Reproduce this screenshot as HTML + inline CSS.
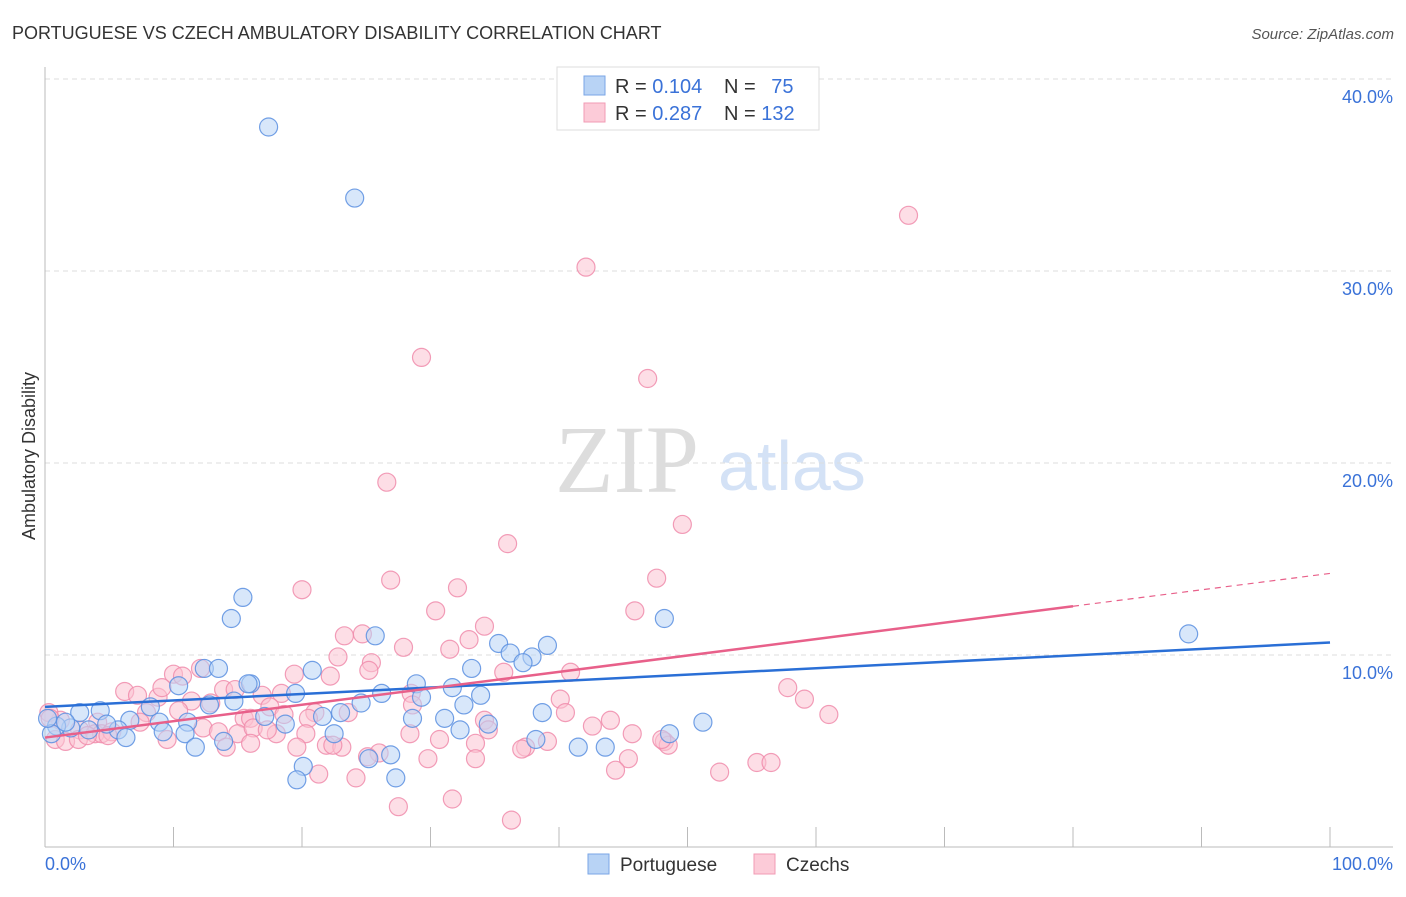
<!DOCTYPE html>
<html><head><meta charset="utf-8"><style>
body{margin:0;background:#fff;font-family:"Liberation Sans",sans-serif;}
svg text{font-family:"Liberation Sans",sans-serif;}
</style></head><body>
<svg id="chart" width="1406" height="892" viewBox="0 0 1406 892">
<text x="12" y="39" font-size="18" fill="#333">PORTUGUESE VS CZECH AMBULATORY DISABILITY CORRELATION CHART</text>
<text x="1394" y="39" font-size="15" fill="#555" font-style="italic" text-anchor="end">Source: ZipAtlas.com</text>
<text x="555" y="492" font-size="96" fill="#ddd" font-family="Liberation Serif, serif" style="font-family:'Liberation Serif',serif">ZIP</text>
<text x="718" y="490" font-size="70" fill="#d4e2f6">atlas</text>
<g id="grid"></g>
<g id="axes"></g>
<g id="pts"></g>
<g id="lines"></g>
<text transform="translate(35,456) rotate(-90)" font-size="18" fill="#333" text-anchor="middle">Ambulatory Disability</text>
<text x="45" y="870" font-size="18" fill="#3a72d8">0.0%</text>
<text x="1393" y="870" font-size="18" fill="#3a72d8" text-anchor="end">100.0%</text>
<g>
<rect x="557" y="67" width="262" height="63" fill="#fff" stroke="#ddd"/>
<rect x="584" y="76" width="21" height="19" fill="#b8d3f5" stroke="#7aa6e6"/>
<rect x="584" y="103" width="21" height="19" fill="#fccbd8" stroke="#f29bb4"/>
<text x="615" y="93" font-size="20" fill="#333">R = <tspan fill="#3a72d8">0.104</tspan></text>
<text x="724" y="93" font-size="20" fill="#333">N = <tspan fill="#3a72d8" dx="10">75</tspan></text>
<text x="615" y="120" font-size="20" fill="#333">R = <tspan fill="#3a72d8">0.287</tspan></text>
<text x="724" y="120" font-size="20" fill="#333">N = <tspan fill="#3a72d8">132</tspan></text>
</g>
<g>
<rect x="588" y="854" width="21" height="20" fill="#b8d3f5" stroke="#7aa6e6"/>
<text x="620" y="871" font-size="19" fill="#333">Portuguese</text>
</g>
<g>
<rect x="754" y="854" width="21" height="20" fill="#fccbd8" stroke="#f29bb4"/>
<text x="786" y="871" font-size="19" fill="#333">Czechs</text>
</g>
</svg>
<script>
const yTicks=[10,20,30,40];
const yTickLabels=["10.0%","20.0%","30.0%","40.0%"];
const blueX=[17.4,24.1,15.4,14.5,25.7,48.2,89.0,35.3,39.1,36.2,37.9,37.2,20.8,33.2,12.4,13.5,10.4,16.0,19.5,26.2,28.9,29.3,31.7,33.9,32.6,24.6,21.6,23.0,14.7,12.8,8.2,4.3,2.7,28.6,31.1,34.5,38.7,32.3,51.2,48.6,18.7,17.1,11.1,8.9,6.6,5.7,4.8,3.4,2.0,0.9,0.5,6.3,10.9,9.2,11.7,13.9,22.5,38.2,41.5,43.6,26.9,25.2,20.1,19.6,27.3,0.2,1.6,15.8];
const blueY=[37.5,33.8,13.0,11.9,11.0,11.9,11.1,10.6,10.5,10.1,9.9,9.6,9.2,9.3,9.3,9.3,8.4,8.5,8.0,8.0,8.5,7.8,8.3,7.9,7.4,7.5,6.8,7.0,7.6,7.4,7.3,7.1,7.0,6.7,6.7,6.4,7.0,6.1,6.5,5.9,6.4,6.8,6.5,6.5,6.6,6.1,6.4,6.1,6.2,6.3,5.9,5.7,5.9,6.0,5.2,5.5,5.9,5.6,5.2,5.2,4.8,4.6,4.2,3.5,3.6,6.7,6.5,8.5];
const pinkX=[67.2,42.1,29.3,46.9,26.6,49.6,36.0,26.9,47.6,20.0,32.1,30.4,45.9,34.2,23.3,24.7,27.9,33.0,31.5,22.8,25.4,25.2,22.2,19.4,40.9,35.7,12.1,10.0,10.7,57.8,59.1,61.0,6.2,7.2,8.8,9.1,13.9,14.8,16.9,18.4,28.5,28.6,40.1,40.5,11.4,12.9,7.9,10.4,17.5,23.6,21.0,18.6,15.5,16.0,4.1,2.7,1.2,0.3,0.8,1.6,2.6,3.9,4.4,5.2,7.4,9.5,12.3,13.5,15.0,16.2,18.0,17.3,20.5,20.3,21.9,23.1,16.0,14.1,19.6,22.4,26.0,25.1,28.4,30.7,34.2,34.5,33.5,33.5,29.8,21.3,24.2,27.5,31.7,36.3,37.4,37.1,39.1,42.6,44.0,45.7,48.2,48.5,48.0,45.4,44.4,52.5,55.4,56.5,0.4,4.9,3.3];
const pinkY=[32.9,30.2,25.5,24.4,19.0,16.8,15.8,13.9,14.0,13.4,13.5,12.3,12.3,11.5,11.0,11.1,10.4,10.8,10.3,9.9,9.6,9.2,8.9,9.0,9.1,9.1,9.3,9.0,8.9,8.3,7.7,6.9,8.1,7.9,7.8,8.3,8.2,8.2,7.9,8.0,8.0,7.4,7.7,7.0,7.6,7.5,7.0,7.1,7.3,7.0,7.0,6.9,6.7,6.7,6.5,6.1,6.6,7.0,5.6,5.5,5.6,5.9,5.9,6.0,6.5,5.6,6.2,6.0,5.9,6.2,5.9,6.1,6.7,5.9,5.3,5.2,5.4,5.2,5.2,5.3,4.9,4.7,5.9,5.6,6.6,6.1,5.4,4.6,4.6,3.8,3.6,2.1,2.5,1.4,5.2,5.1,5.5,6.3,6.6,5.9,5.5,5.3,5.6,4.6,4.0,3.9,4.4,4.4,6.7,5.8,5.8];
const blueTrend=[7.3,10.65];
const pinkTrend=[5.7,14.25];
const NS="http://www.w3.org/2000/svg";
function xs(v){return 45+v*12.85;}
function ys(v){return 847-v*19.2;}
function mk(tag,attrs,parent){const e=document.createElementNS(NS,tag);for(const k in attrs)e.setAttribute(k,attrs[k]);parent.appendChild(e);return e;}
const grid=document.getElementById('grid');
yTicks.forEach((t,i)=>{
  const l=mk('line',{x1:45,x2:1393,y1:ys(t),y2:ys(t),stroke:'#ddd','stroke-dasharray':'5,4'},grid);
  
  
  const tx=mk('text',{x:1393,y:ys(t)+24,'font-size':18,fill:'#3a72d8','text-anchor':'end'},grid);
  tx.textContent=yTickLabels[i];
  
  
});
const axes=document.getElementById('axes');
const ya=mk('line',{x1:45,x2:45,y1:67,y2:847,stroke:'#bbb'},axes);


const xa=mk('line',{x1:45,x2:1393,y1:847,y2:847,stroke:'#bbb'},axes);


for(let k=1;k<=10;k++){
  const t=mk('line',{x1:xs(k*10),x2:xs(k*10),y1:827,y2:847,stroke:'#bbb'},axes);
  
  
}
const pts=document.getElementById('pts');
function dots(X,Y,fill,stroke,name){
  X.forEach((v,i)=>{
    const c=mk('circle',{cx:xs(v),cy:ys(Y[i]),r:9,fill:fill,'fill-opacity':0.55,stroke:stroke,'stroke-width':1.2,'stroke-opacity':0.85},pts);
    
    
  });
}
dots(pinkX,pinkY,'#fbc2d2','#f08cab','czechs-point');
dots(blueX,blueY,'#b8d3f5','#5b8fe0','portuguese-point');
const lines=document.getElementById('lines');
const bl=mk('line',{x1:xs(0),y1:ys(blueTrend[0]),x2:xs(100),y2:ys(blueTrend[1]),stroke:'#2a6fd6','stroke-width':2.5},lines);


const p80=pinkTrend[0]+(pinkTrend[1]-pinkTrend[0])*0.8;
const pl=mk('line',{x1:xs(0),y1:ys(pinkTrend[0]),x2:xs(80),y2:ys(p80),stroke:'#e8608a','stroke-width':2.5},lines);


const pd=mk('line',{x1:xs(80),y1:ys(p80),x2:xs(100),y2:ys(pinkTrend[1]),stroke:'#e8608a','stroke-width':1.2,'stroke-dasharray':'6,5'},lines);


</script>
</body></html>
